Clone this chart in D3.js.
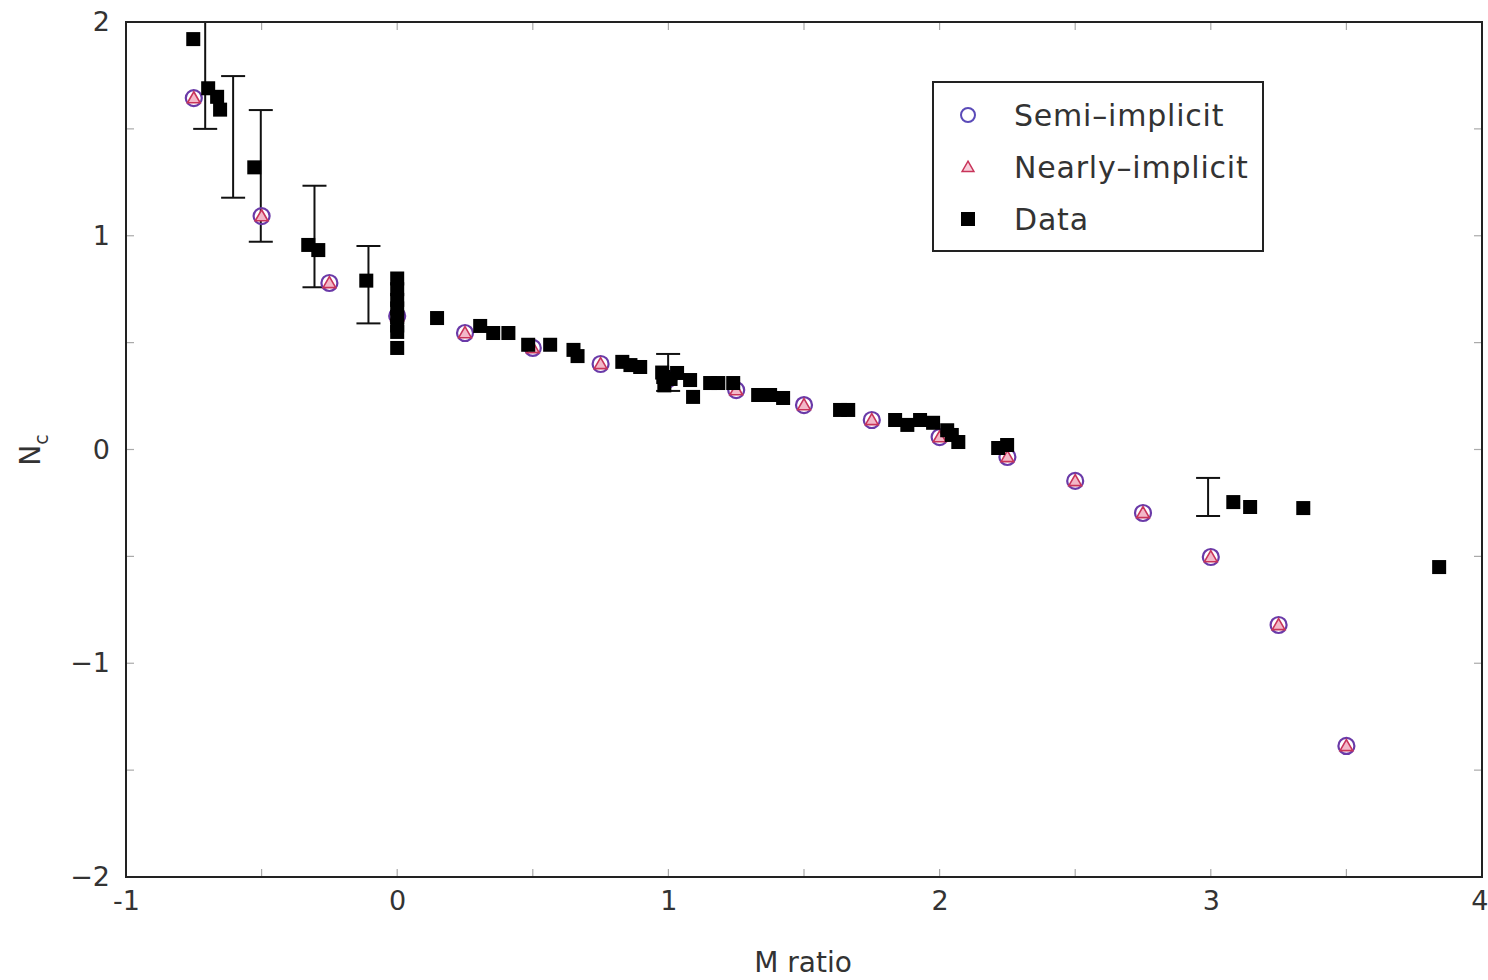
<!DOCTYPE html>
<html><head><meta charset="utf-8">
<script src="https://cdn.jsdelivr.net/npm/d3@7"></script>
<style>body{margin:0;background:#fff;} text{font-family:"DejaVu Sans",sans-serif;}</style>
</head><body>
<svg id="c" width="1488" height="980"></svg>
<script>
// Model points (x positions and N_c values)
const modelX = [-0.75,-0.5,-0.25,0,0.25,0.5,0.75,1.0,1.25,1.5,1.75,2.0,2.25,2.5,2.75,3.0,3.25,3.5];
const semiY  = [1.644,1.092,0.779,0.625,0.545,0.475,0.40,0.33,0.278,0.208,0.138,0.058,-0.035,-0.147,-0.297,-0.503,-0.821,-1.387];
const nearY  = [1.644,1.092,0.779,0.625,0.545,0.475,0.40,0.33,0.278,0.208,0.138,0.058,-0.035,-0.147,-0.297,-0.503,-0.821,-1.387];
// Data points
const dataX = [-0.752,-0.697,-0.664,-0.653,-0.527,-0.328,-0.291,-0.114,
  0,0,0,0,0,0,0,0,
  0.147,0.306,0.354,0.41,0.483,0.564,0.65,0.665,0.83,0.86,0.896,
  0.977,0.981,0.985,1.008,1.032,1.08,1.091,1.154,1.184,1.239,1.331,1.375,1.423,
  1.633,1.663,1.836,1.881,1.928,1.976,2.028,2.045,2.069,2.216,2.249,
  3.083,3.145,3.341,3.842];
const dataY = [1.92,1.69,1.65,1.59,1.32,0.957,0.933,0.79,
  0.80,0.75,0.70,0.66,0.62,0.58,0.55,0.475,
  0.615,0.578,0.545,0.545,0.49,0.49,0.466,0.437,0.41,0.395,0.386,
  0.36,0.339,0.30,0.33,0.358,0.325,0.246,0.311,0.311,0.311,0.255,0.255,0.241,
  0.185,0.185,0.138,0.115,0.138,0.125,0.09,0.068,0.035,0.007,0.021,
  -0.246,-0.269,-0.274,-0.55];
// Error bars on selected data
const errX    = [-0.708,-0.605,-0.503,-0.305,-0.106,0.999,2.99];
const errLow  = [1.50,1.178,0.972,0.759,0.590,0.274,-0.311];
const errHigh = [2.05,1.747,1.588,1.234,0.952,0.447,-0.133];
const xTicks = [-1,0,1,2,3,4];
const yTicks = [-2,-1,0,1,2];
const legendLabels = ["Semi\u2013implicit","Nearly\u2013implicit","Data"];

const svg = d3.select("#c");
const L=126,R=1482,T=22,B=877;
const x = d3.scaleLinear().domain([-1,4]).range([L,R]);
const y = d3.scaleLinear().domain([-2,2]).range([B,T]);

svg.append("defs").append("clipPath").attr("id","clip")
  .append("rect").attr("x",L).attr("y",T).attr("width",R-L).attr("height",B-T);

// minor/major inner ticks
const tk = svg.append("g").attr("stroke","#aaa").attr("stroke-width",1.2);
d3.range(-1,4.01,0.5).forEach(v=>{
  tk.append("line").attr("x1",x(v)).attr("x2",x(v)).attr("y1",B).attr("y2",B-8);
  tk.append("line").attr("x1",x(v)).attr("x2",x(v)).attr("y1",T).attr("y2",T+8);
});
d3.range(-2,2.01,0.5).forEach(v=>{
  tk.append("line").attr("y1",y(v)).attr("y2",y(v)).attr("x1",L).attr("x2",L+8);
  tk.append("line").attr("y1",y(v)).attr("y2",y(v)).attr("x1",R).attr("x2",R-8);
});

// axes labels via d3 axes
const xa = svg.append("g").attr("transform",`translate(0,${B})`)
  .call(d3.axisBottom(x).tickValues(xTicks).tickSize(0).tickPadding(14).tickFormat(d=>d<0?"-"+Math.abs(d):d));
xa.select(".domain").remove();
xa.selectAll("text").attr("font-size",27).attr("fill","#333").attr("font-family","DejaVu Sans Condensed, DejaVu Sans").attr("dy","0.71em");
xa.selectAll("text").filter(d=>d===4).attr("text-anchor","end").attr("dx",6);
const ya = svg.append("g").attr("transform",`translate(${L},0)`)
  .call(d3.axisLeft(y).tickValues(yTicks).tickSize(0).tickPadding(16).tickFormat(d=>d<0?"\u2212"+Math.abs(d):d));
ya.select(".domain").remove();
ya.selectAll("text").attr("font-size",27).attr("fill","#333").attr("dy","0.32em");

svg.append("text").attr("x",803).attr("y",972).attr("text-anchor","middle")
  .attr("font-size",28).attr("fill","#333").attr("font-family","DejaVu Sans Condensed, DejaVu Sans").text("M ratio");
const yl = svg.append("text").attr("transform","translate(40,450) rotate(-90)").attr("text-anchor","middle")
  .attr("font-size",28).attr("fill","#333");
yl.append("tspan").text("N");
yl.append("tspan").attr("font-size",19).attr("dy",8).text("c");

const g = svg.append("g").attr("clip-path","url(#clip)");
// error bars
errX.forEach((v,i)=>{
  const eg = g.append("g").attr("stroke","#111").attr("stroke-width",2);
  eg.append("line").attr("x1",x(v)).attr("x2",x(v)).attr("y1",y(errLow[i])).attr("y2",y(errHigh[i]));
  eg.append("line").attr("x1",x(v)-12).attr("x2",x(v)+12).attr("y1",y(errLow[i])).attr("y2",y(errLow[i]));
  eg.append("line").attr("x1",x(v)-12).attr("x2",x(v)+12).attr("y1",y(errHigh[i])).attr("y2",y(errHigh[i]));
});
// model markers
const tri = d3.symbol().type(d3.symbolTriangle).size(70);
modelX.forEach((v,i)=>{
  g.append("circle").attr("cx",x(v)).attr("cy",y(semiY[i])).attr("r",8)
    .attr("fill","none").attr("stroke","#6a3aa8").attr("stroke-width",2.2);
  g.append("path").attr("d",tri).attr("transform",`translate(${x(v)},${y(nearY[i])+1})`)
    .attr("fill","#f3b8c8").attr("stroke","#c8345a").attr("stroke-width",1.6);
});
// data squares
dataX.forEach((v,i)=>{
  g.append("rect").attr("x",x(v)-7).attr("y",y(dataY[i])-7).attr("width",14).attr("height",14).attr("fill","#000");
});

// frame
svg.append("rect").attr("x",L).attr("y",T).attr("width",R-L).attr("height",B-T)
  .attr("fill","none").attr("stroke","#222").attr("stroke-width",2);

// legend
const lg = svg.append("g");
lg.append("rect").attr("x",933).attr("y",82).attr("width",330).attr("height",169)
  .attr("fill","#fff").attr("stroke","#222").attr("stroke-width",2);
const ly=[115,167,219];
lg.append("circle").attr("cx",968).attr("cy",ly[0]).attr("r",7).attr("fill","none").attr("stroke","#5a4ab8").attr("stroke-width",2);
lg.append("path").attr("d",d3.symbol().type(d3.symbolTriangle).size(60)).attr("transform",`translate(968,${ly[1]+1})`)
  .attr("fill","#f8d0dc").attr("stroke","#c8345a").attr("stroke-width",1.5);
lg.append("rect").attr("x",961).attr("y",ly[2]-7).attr("width",14).attr("height",14).attr("fill","#000");
legendLabels.forEach((t,i)=>{
  lg.append("text").attr("x",1014).attr("y",ly[i]).attr("dy","0.35em").attr("font-size",30)
    .attr("letter-spacing",0.8)
    .attr("fill","#333").attr("font-family","DejaVu Sans Condensed, DejaVu Sans").text(t);
});
</script>
</body></html>
